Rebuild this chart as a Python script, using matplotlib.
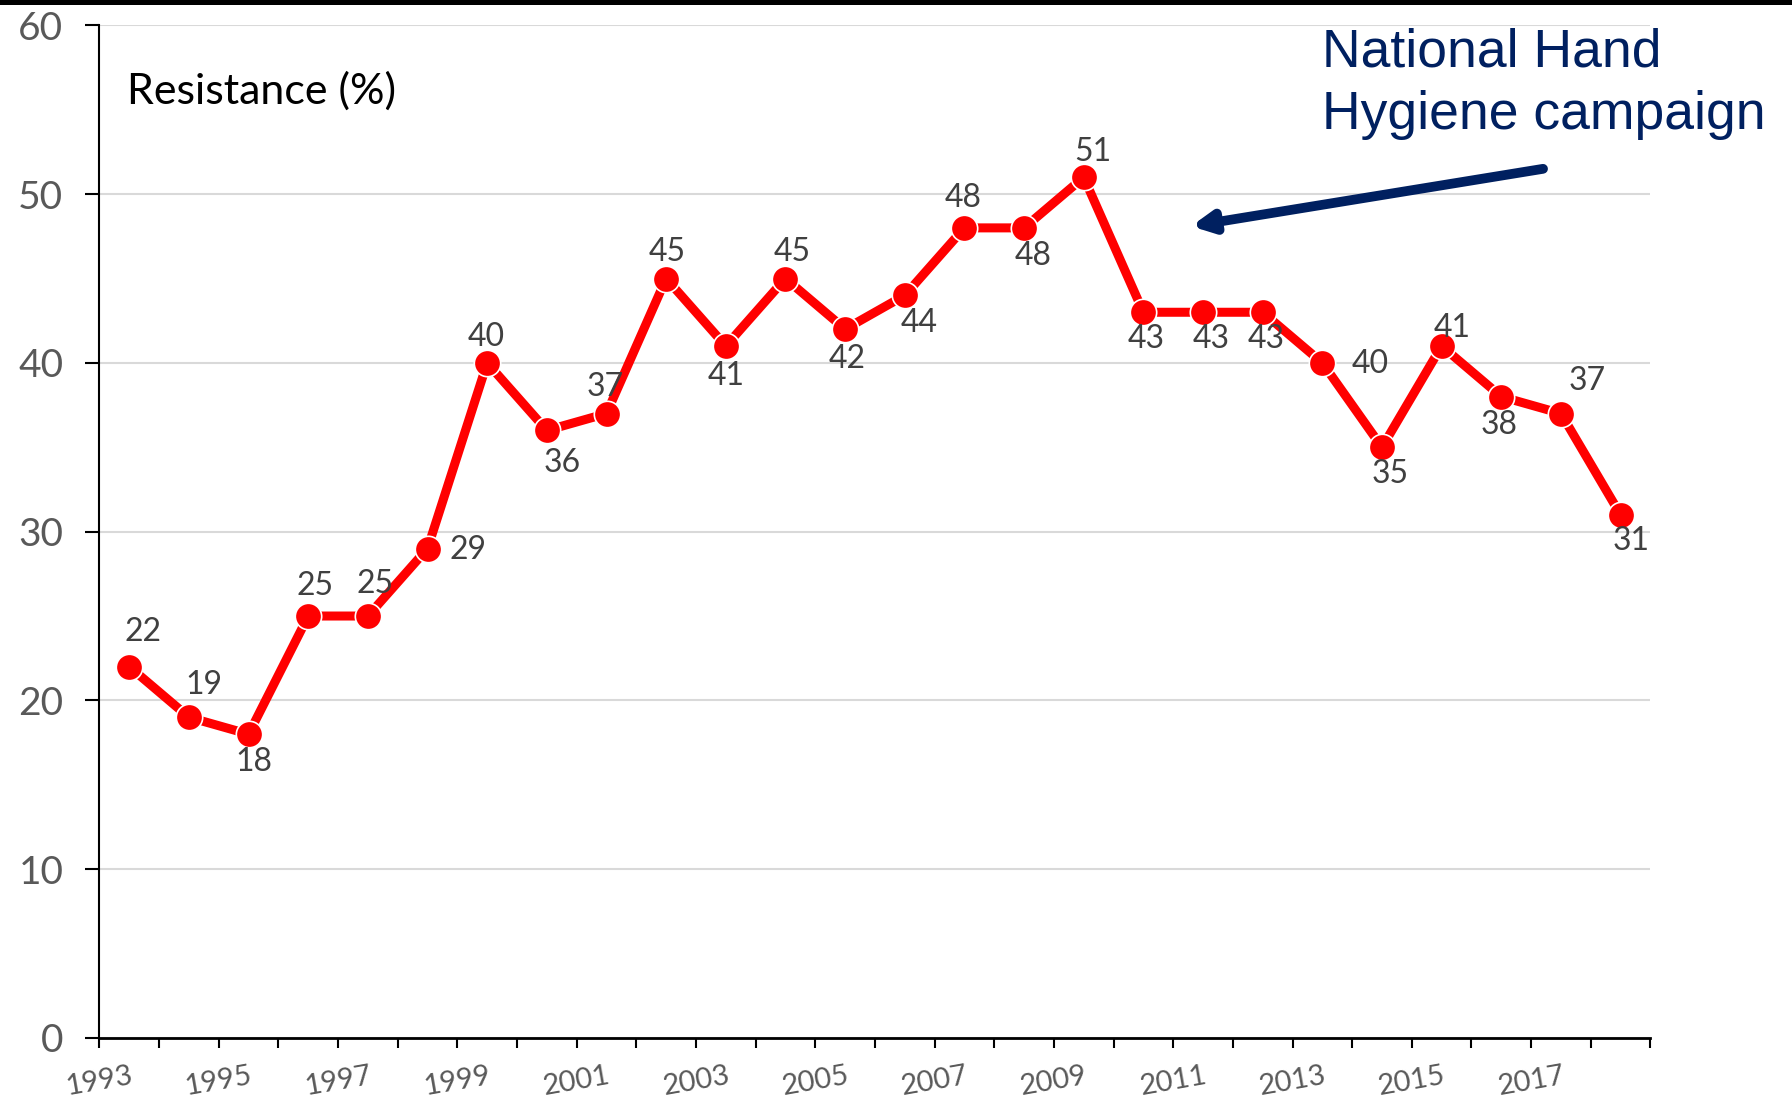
import matplotlib
matplotlib.use("Agg")
import matplotlib.pyplot as plt
from matplotlib.patches import Rectangle

# ─────────────────────────────────────────────────────────────────────────────
# DATA
years = list(range(1993, 2019))
resistance = [22, 19, 18, 25, 25, 29, 40, 36, 37, 45, 41, 45, 42,
              44, 48, 48, 51, 43, 43, 43, 40, 35, 41, 38, 37, 31]
tick_labels = [str(y) if (y - 1993) % 2 == 0 and y < 2019 else ""
               for y in range(1993, 2020)]
y_ticks = [0, 10, 20, 30, 40, 50, 60]
annotation = "National Hand\nHygiene campaign"
ylabel_text = "Resistance (%)"

# label offsets (pixels) for each data label
label_offsets = [(14, 35), (15, 32), (5, -28), (7, 30), (7, 32), (40, -1),
                 (-1, 26), (15, -33), (-1, 27), (1, 27), (0, -30), (7, 27),
                 (2, -30), (14, -28), (-1, 30), (9, -28), (9, 25), (3, -27),
                 (8, -27), (3, -27), (48, -1), (8, -27), (11, 18), (-2, -28),
                 (26, 33), (11, -26)]
# ─────────────────────────────────────────────────────────────────────────────

plt.rcParams["font.family"] = ["Lato", "DejaVu Sans"]

fig = plt.figure(figsize=(17.92, 11.03), dpi=100)
ax = fig.add_axes([0.0555, 0.059, 0.8655, 0.918])

xs = [i + 0.5 for i in range(len(resistance))]
ax.plot(xs, resistance, color="#ff0000", lw=6.5, marker="o", markersize=19,
        markerfacecolor="#ff0000", markeredgecolor="white", markeredgewidth=1.2,
        zorder=3, solid_joinstyle="miter")

for x, v, (dx, dy) in zip(xs, resistance, label_offsets):
    ax.annotate(str(v), (x, v), xytext=(dx, dy), textcoords="offset pixels",
                ha="center", va="center", fontsize=23, color="#404040", zorder=4)

ax.set_xlim(0, len(resistance))
ax.set_ylim(0, 60)
ax.set_yticks(y_ticks)
ax.set_xticks(range(len(tick_labels)))
ax.set_xticklabels(tick_labels, rotation=10, fontsize=21, color="#595959")
ax.tick_params(axis="y", labelsize=28, labelcolor="#595959", length=10,
               width=1.5, pad=16)
ax.tick_params(axis="x", length=7, width=1.5, pad=11)

ax.grid(axis="y", color="#d9d9d9", lw=1.5)
ax.set_axisbelow(True)
for s in ["top", "right"]:
    ax.spines[s].set_visible(False)
ax.spines["left"].set_linewidth(1.5)
ax.spines["bottom"].set_linewidth(2)

ax.text(0.018, 0.935, ylabel_text, transform=ax.transAxes, fontsize=31,
        color="black", ha="left", va="center")

# campaign annotation
fig.text(0.738, 0.924, annotation, fontsize=38.5, color="#002060",
         family=["Liberation Sans", "DejaVu Sans"], ha="left", va="center",
         linespacing=1.3)
ax.annotate("", xy=(18.3, 48.1), xytext=(24.2, 51.5),
            arrowprops=dict(arrowstyle="-|>,head_length=1.2,head_width=0.6",
                            color="#002060", lw=7, shrinkA=0, shrinkB=0,
                            capstyle="round"))

# black bar at the very top
fig.add_artist(Rectangle((0, 1 - 5 / 1103), 1, 5 / 1103,
                         transform=fig.transFigure, color="black", lw=0))

fig.savefig("out.png", dpi=100)
